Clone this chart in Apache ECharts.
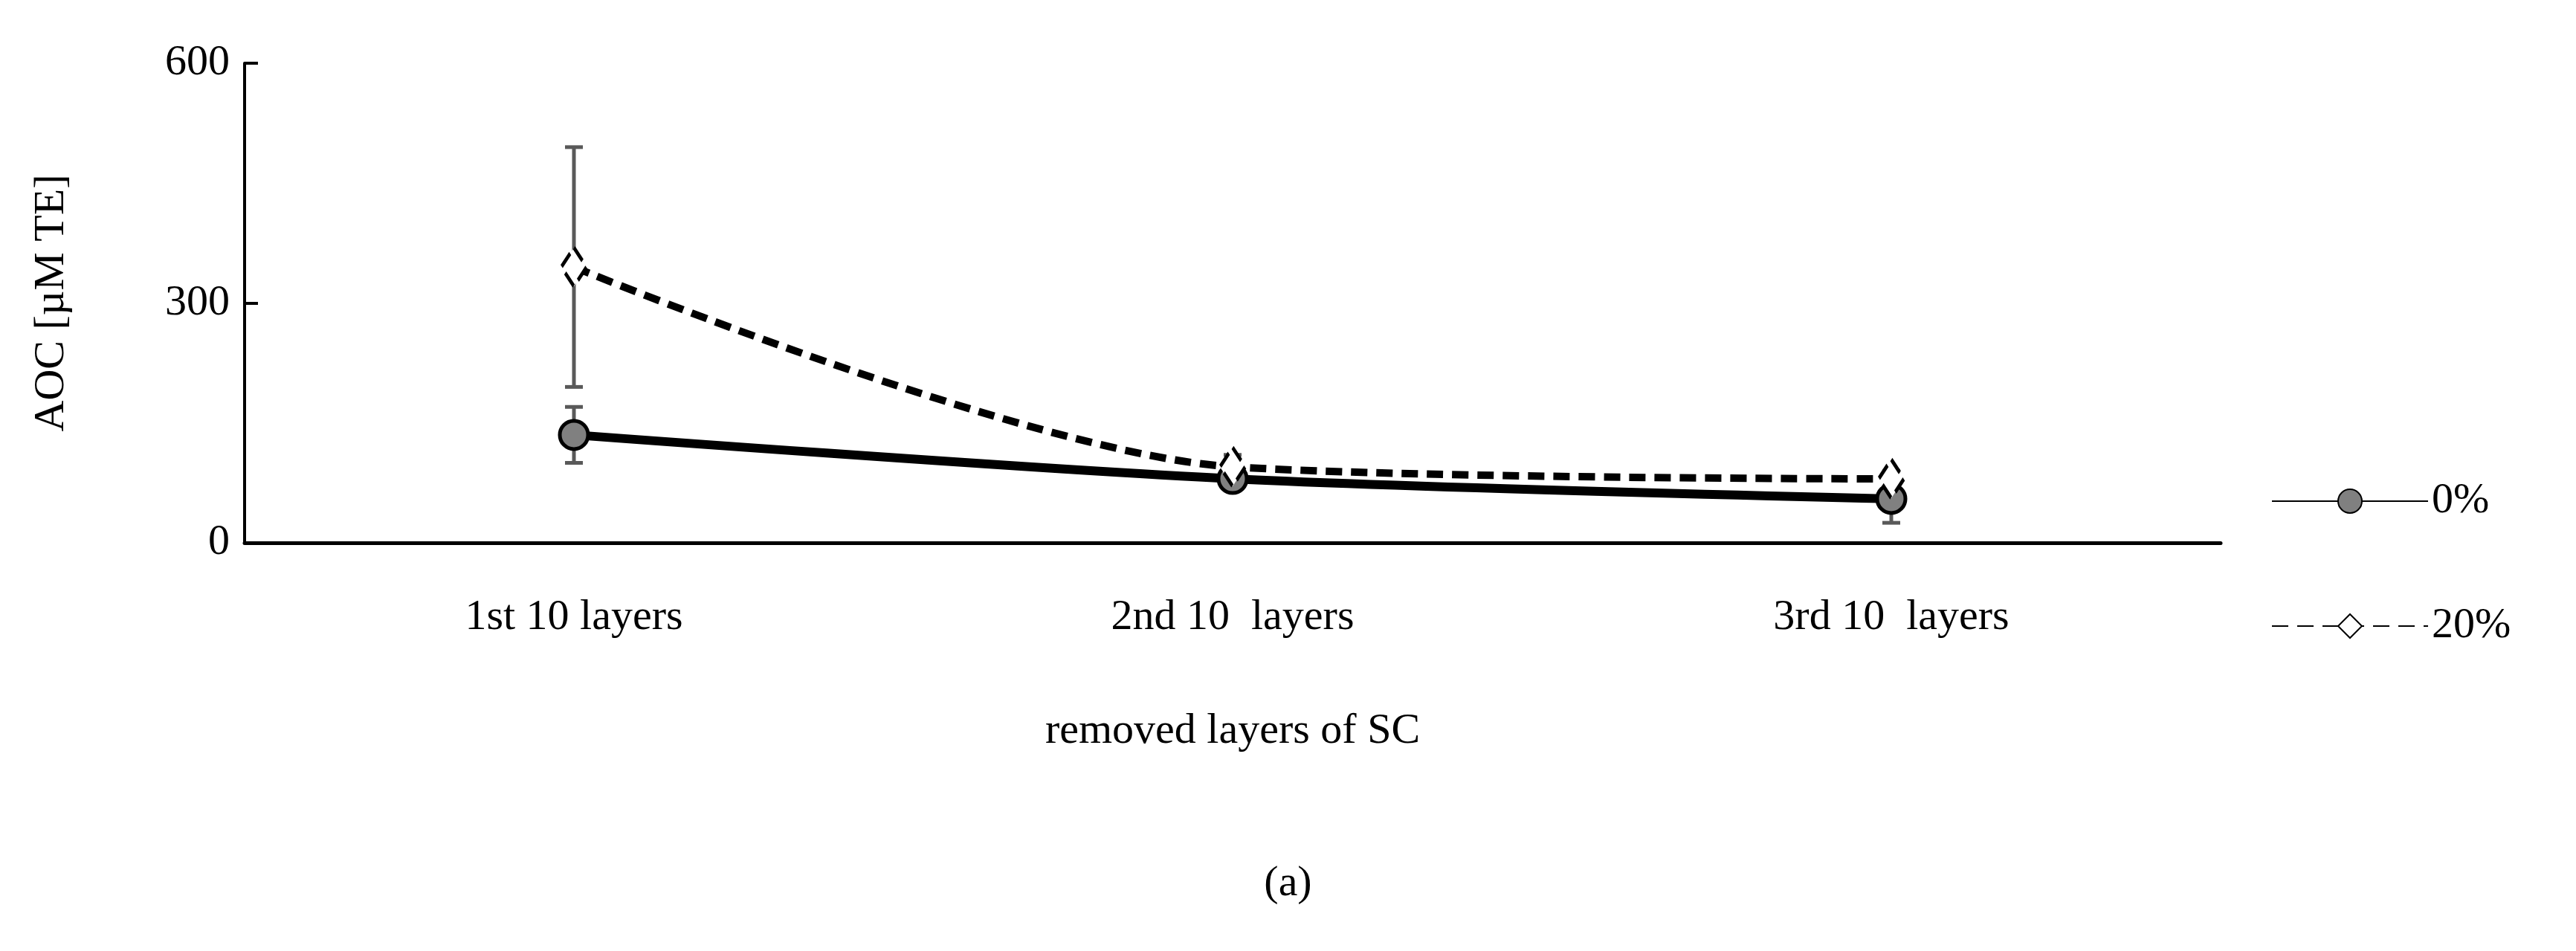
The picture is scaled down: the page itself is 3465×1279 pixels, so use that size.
<!DOCTYPE html>
<html>
<head>
<meta charset="utf-8">
<script src="https://cdn.jsdelivr.net/npm/echarts@6/dist/echarts.min.js"></script>
<style>html,body{margin:0;background:#fff}#chart{width:3465px;height:1279px}</style>
</head>
<body>
<div id="chart"></div>
<script>
const categories = ['1st 10 layers', '2nd 10  layers', '3rd 10  layers'];
const yTicks = [0, 300, 600];
const vals0 = [135, 80, 55];
const err0Low = [100, 68, 25];
const err0High = [170, 92, 65];
const vals20 = [345, 95, 80];
const err20Low = [195, 80, 70];
const err20High = [495, 110, 90];

const font = '"Liberation Serif", serif';
const chart = echarts.init(document.getElementById('chart'));

function errorSeries(low, high) {
  return {
    type: 'custom',
    z: 1,
    silent: true,
    data: low.map((l, i) => [i, l, high[i]]),
    renderItem: function (params, api) {
      const lo = api.coord([api.value(0), api.value(1)]);
      const hi = api.coord([api.value(0), api.value(2)]);
      const w = 12;
      const style = { stroke: '#595959', lineWidth: 5 };
      return {
        type: 'group',
        children: [
          { type: 'line', shape: { x1: lo[0], y1: lo[1], x2: hi[0], y2: hi[1] }, style: style },
          { type: 'line', shape: { x1: lo[0] - w, y1: lo[1], x2: lo[0] + w, y2: lo[1] }, style: style },
          { type: 'line', shape: { x1: hi[0] - w, y1: hi[1], x2: hi[0] + w, y2: hi[1] }, style: style }
        ]
      };
    }
  };
}

chart.setOption({
  animation: false,
  textStyle: { fontFamily: font, color: '#000' },
  grid: { left: 329, right: 478, top: 85, bottom: 549 },
  legend: {
    orient: 'vertical',
    left: 3050,
    top: 640,
    itemWidth: 210,
    itemHeight: 40,
    itemGap: 110,
    textStyle: { fontFamily: font, fontSize: 58, color: '#000' },
    data: ['0%', '20%']
  },
  xAxis: {
    type: 'category',
    data: categories,
    boundaryGap: true,
    axisLine: { lineStyle: { color: '#000', width: 5 } },
    axisTick: { length: 28, lineStyle: { color: '#000', width: 4 } },
    axisLabel: { fontFamily: font, fontSize: 58, color: '#000', margin: 72 },
    name: 'removed layers of SC',
    nameLocation: 'middle',
    nameGap: 225,
    nameTextStyle: { fontFamily: font, fontSize: 58, color: '#000' }
  },
  yAxis: {
    type: 'value',
    min: 0,
    max: 600,
    interval: 300,
    splitLine: { show: false },
    axisLine: { show: true, lineStyle: { color: '#000', width: 4 } },
    axisTick: { show: true, inside: true, length: 18, lineStyle: { color: '#000', width: 4 } },
    axisLabel: { fontFamily: font, fontSize: 58, color: '#000', margin: 20 },
    name: 'AOC [µM TE]',
    nameLocation: 'middle',
    nameGap: 230,
    nameTextStyle: { fontFamily: font, fontSize: 58, color: '#000' }
  },
  graphic: [{
    type: 'text', left: 'center', top: 1160,
    style: { text: '(a)', font: '58px "Liberation Serif", serif', fill: '#000' }
  }],
  series: [
    errorSeries(err20Low, err20High),
    errorSeries(err0Low, err0High),
    {
      name: '0%', type: 'line', data: vals0, smooth: 0.3, z: 3,
      lineStyle: { color: '#000', width: 12 },
      symbol: 'circle', symbolSize: 38,
      itemStyle: { color: '#808080', borderColor: '#000', borderWidth: 5 }
    },
    {
      name: '20%', type: 'line', data: vals20, smooth: 0.3, z: 4,
      lineStyle: { color: '#000', width: 10, type: [22, 12] },
      symbol: 'diamond', symbolSize: [34, 52],
      itemStyle: { color: '#fff', borderColor: '#000', borderWidth: 5, borderType: 'dashed' }
    }
  ]
});
</script>
</body>
</html>
